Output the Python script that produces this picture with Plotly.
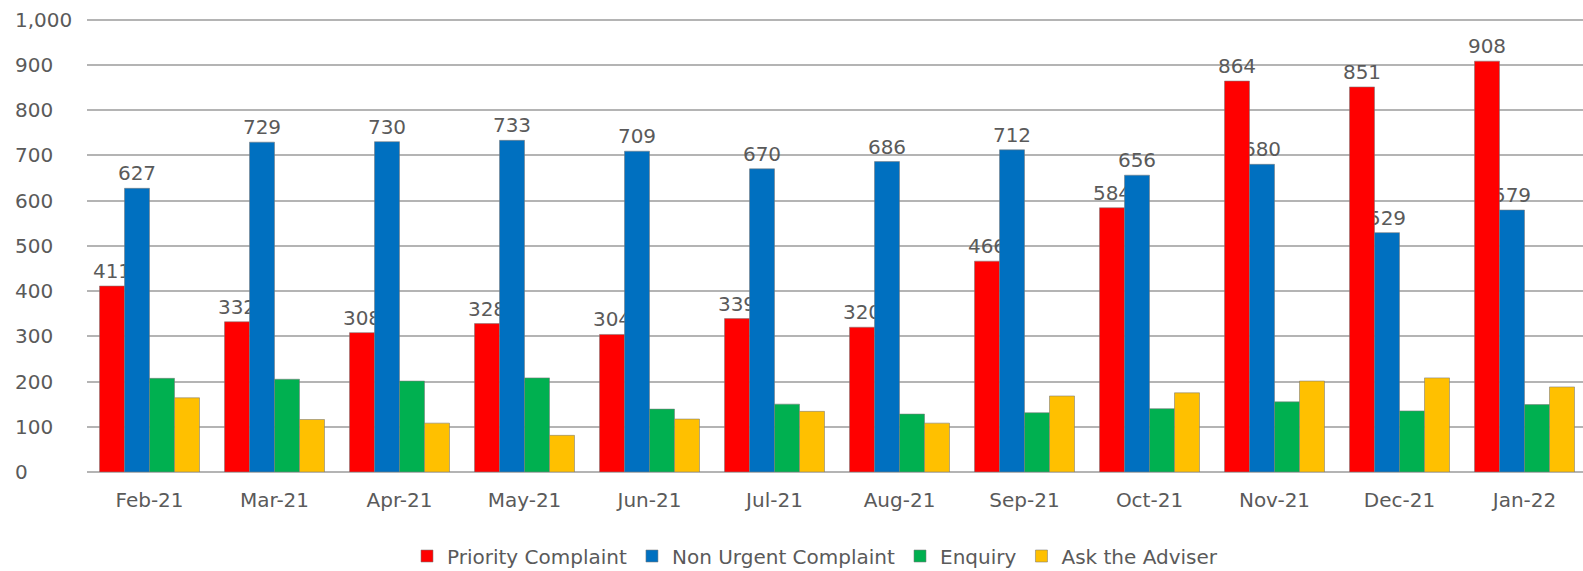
import plotly.graph_objects as go

# Monthly case counts by contact type
months = ["Feb-21", "Mar-21", "Apr-21", "May-21", "Jun-21", "Jul-21",
          "Aug-21", "Sep-21", "Oct-21", "Nov-21", "Dec-21", "Jan-22"]
priority = [411, 332, 308, 328, 304, 339, 320, 466, 584, 864, 851, 908]
non_urgent = [627, 729, 730, 733, 709, 670, 686, 712, 656, 680, 529, 579]
enquiry = [207, 205, 201, 208, 139, 150, 128, 131, 140, 155, 135, 149]
adviser = [164, 116, 108, 81, 117, 134, 108, 168, 175, 201, 208, 188]
y_ticks = [0, 100, 200, 300, 400, 500, 600, 700, 800, 900, 1000]

series = [
    ("Priority Complaint", priority, "#ff0000", True),
    ("Non Urgent Complaint", non_urgent, "#0070c0", True),
    ("Enquiry", enquiry, "#00b050", False),
    ("Ask the Adviser", adviser, "#ffc000", False),
]

W, H = 1583, 571
L, R, T, B = 87, 0, 15, 99
plot_w = W - L - R

FONT = "DejaVu Sans"
GREY = "#5a5a5a"
GRID = "#b4b4b4"

fig = go.Figure()

# Value labels first, on invisible bars, so the coloured bars sit on top of them
for i, (name, vals, color, labelled) in enumerate(series):
    if not labelled:
        continue
    fig.add_trace(go.Bar(
        x=months, y=vals, offsetgroup=str(i),
        marker=dict(color="rgba(0,0,0,0)", line=dict(width=0)),
        text=[str(v) for v in vals], textposition="outside",
        constraintext="none", cliponaxis=False,
        textfont=dict(family=FONT, size=20, color=GREY),
        showlegend=False, hoverinfo="skip",
    ))

for i, (name, vals, color, labelled) in enumerate(series):
    fig.add_trace(go.Bar(
        x=months, y=vals, name=name, offsetgroup=str(i),
        marker=dict(color=color, line=dict(color="rgba(120,120,120,0.55)", width=1)),
    ))

# Left-aligned value-axis labels
for v in y_ticks:
    fig.add_annotation(
        x=-(L - 13) / plot_w, xref="paper", xanchor="left",
        y=v, yref="y", yanchor="middle",
        text=f"{v:,}", showarrow=False,
        font=dict(family=FONT, size=20, color=GREY),
    )

fig.update_layout(
    width=W, height=H,
    margin=dict(l=L, r=R, t=T, b=B),
    paper_bgcolor="white", plot_bgcolor="white",
    barmode="group", bargap=0.2, bargroupgap=0.0,
    font=dict(family=FONT, size=20, color=GREY),
    legend=dict(
        orientation="h", xanchor="center", x=(815 - L) / plot_w,
        yref="container", yanchor="middle", y=1 - 556 / H,
        font=dict(family=FONT, size=20, color=GREY),
        itemwidth=30, traceorder="normal",
    ),
    xaxis=dict(
        range=[-0.5, -0.5 + plot_w / 125.0],
        showgrid=False, showline=False, ticks="",
        ticklabelstandoff=14,
        tickfont=dict(family=FONT, size=20, color=GREY),
    ),
    yaxis=dict(
        range=[0, 1010], tickvals=y_ticks, showticklabels=False,
        showgrid=True, gridcolor=GRID, gridwidth=2,
        zeroline=True, zerolinecolor=GRID, zerolinewidth=2,
        showline=False, ticks="",
    ),
)

fig.write_html("out.html")
